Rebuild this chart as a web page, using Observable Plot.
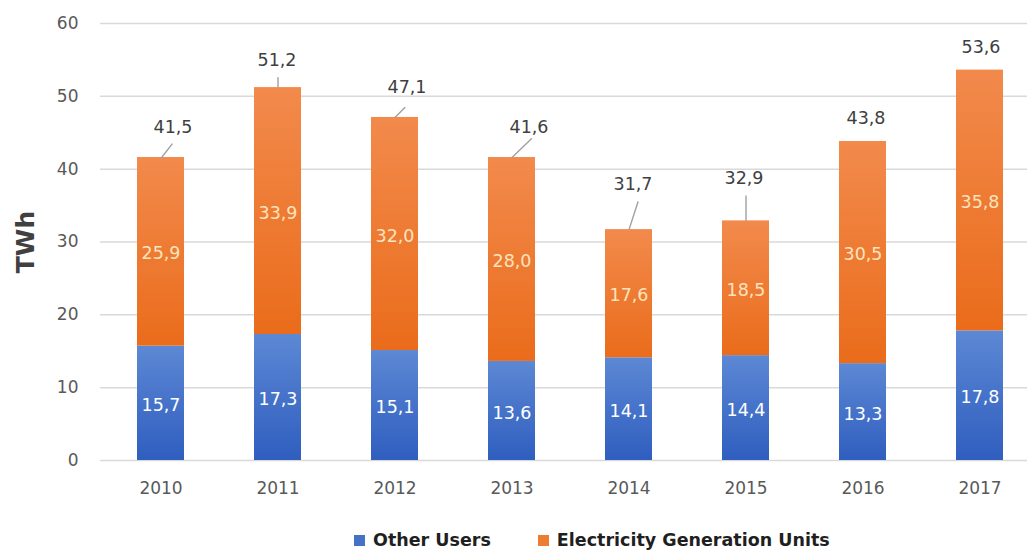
<!DOCTYPE html>
<html>
<head>
<meta charset="utf-8">
<script src="https://cdn.jsdelivr.net/npm/d3@7"></script>
<script src="https://cdn.jsdelivr.net/npm/@observablehq/plot@0.6"></script>
<style>
  html, body { margin: 0; padding: 0; background: #fff; }
  #chart { width: 1027px; height: 553px; position: relative; overflow: hidden; }
  #legend { position: absolute; left: 354px; top: 530px; display: flex; align-items: center;
            font-family: "DejaVu Sans", sans-serif; font-weight: bold; font-size: 17.5px; color: #1f1f1f; }
  #legend .sw { width: 11px; height: 11px; display: inline-block; margin-right: 8px; }
  #legend .item { display: flex; align-items: center; }
</style>
</head>
<body>
<svg width="0" height="0" style="position:absolute">
  <defs>
    <linearGradient id="gBlue" x1="0" y1="0" x2="0" y2="1">
      <stop offset="0" stop-color="#5c88d4"/>
      <stop offset="1" stop-color="#2f5ebf"/>
    </linearGradient>
    <linearGradient id="gOrange" x1="0" y1="0" x2="0" y2="1">
      <stop offset="0" stop-color="#f28a4c"/>
      <stop offset="1" stop-color="#ea6c1b"/>
    </linearGradient>
  </defs>
</svg>
<div id="chart"></div>
<script>
const years = ["2010", "2011", "2012", "2013", "2014", "2015", "2016", "2017"];
const otherUsers = [15.7, 17.3, 15.1, 13.6, 14.1, 14.4, 13.3, 17.8];
const electricityUnits = [25.9, 33.9, 32.0, 28.0, 17.6, 18.5, 30.5, 35.8];
const totals = [41.5, 51.2, 47.1, 41.6, 31.7, 32.9, 43.8, 53.6];
const seriesNames = ["Other Users", "Electricity Generation Units"];
const yTicks = [0, 10, 20, 30, 40, 50, 60];

// annotation layout (pixel offsets of the total labels and their leader lines)
const totalLabelOffsets = [[12, -31], [-1, -27], [12, -30], [17, -30], [4, -45], [-2, -42], [3, -23], [1, -23]];
const leaderLines = [[18, 38], [10, 0], [14, 45], [27, 46], [29, 18], [25, 0], null, null];

const fmt = v => v.toFixed(1).replace(".", ",");

const rows = [];
years.forEach((yr, i) => {
  rows.push({year: yr, series: seriesNames[0], value: otherUsers[i]});
  rows.push({year: yr, series: seriesNames[1], value: electricityUnits[i]});
});
const totalRows = years.map((yr, i) => ({year: yr, total: totals[i], label: fmt(totals[i])}));

const lineShape = {draw(context, l) { context.moveTo(0, 0); context.lineTo(0, -l); }};

const font = '"DejaVu Sans", sans-serif';

const marks = [
  Plot.gridY(yTicks, {stroke: "#d9d9d9", strokeOpacity: 1, strokeWidth: 1.5}),
  Plot.axisY(yTicks, {tickSize: 0, tickPadding: 22, fontSize: 17, fill: "#595959", label: null, tickFormat: d => String(d)}),
  Plot.axisX({tickSize: 0, tickPadding: 21, fontSize: 17, fill: "#595959", label: null}),
  Plot.barY(rows, {x: "year", y: "value", fill: "series", order: seriesNames}),
  Plot.text(rows, Plot.stackY({x: "year", y: "value", z: "series", order: seriesNames,
    text: d => fmt(d.value),
    fill: d => d.series === seriesNames[0] ? "#ffffff" : "#fde3bd",
    fontSize: 17.5, dy: 2}))
];
totalRows.forEach((r, i) => {
  marks.push(Plot.text([r], {x: "year", y: "total", text: "label", dx: totalLabelOffsets[i][0], dy: totalLabelOffsets[i][1],
    fill: "#404040", fontSize: 17.5}));
  if (leaderLines[i]) {
    marks.push(Plot.vector([r], {x: "year", y: "total", length: leaderLines[i][0], rotate: leaderLines[i][1],
      anchor: "start", shape: lineShape, stroke: "#a0a0a0", strokeWidth: 1.4}));
  }
});
marks.push(Plot.text(["TWh"], {frameAnchor: "left", textAnchor: "middle", dx: 25 - 100, rotate: -90, text: d => d,
  fontSize: 25, fontWeight: "bold", fill: "#404040", letterSpacing: "1px"}));

const chart = Plot.plot({
  width: 1027,
  height: 510,
  marginLeft: 100,
  marginRight: 0,
  marginTop: 23,
  marginBottom: 50,
  style: {fontFamily: font, background: "#fff", overflow: "visible"},
  x: {domain: years, paddingInner: 0.601, paddingOuter: 0.232, align: 0.603, label: null},
  y: {domain: [0, 60], label: null},
  color: {domain: seriesNames, range: ["url(#gBlue)", "url(#gOrange)"]},
  marks
});
document.getElementById("chart").appendChild(chart);

const legend = document.createElement("div");
legend.id = "legend";
const swatchColors = ["#4472c4", "#ed7d31"];
seriesNames.forEach((name, i) => {
  const item = document.createElement("span");
  item.className = "item";
  item.style.marginRight = i === 0 ? "47px" : "0";
  item.innerHTML = `<span class="sw" style="background:${swatchColors[i]}"></span><span>${name}</span>`;
  legend.appendChild(item);
});
document.getElementById("chart").appendChild(legend);
</script>
</body>
</html>
